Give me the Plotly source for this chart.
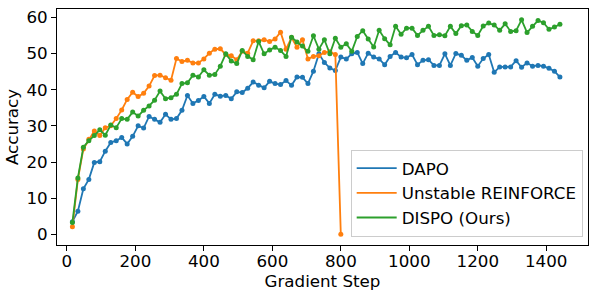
import plotly.graph_objects as go

steps = list(range(16, 1441, 16))

dapo = [3.5, 6.4, 12.6, 15.2, 19.9, 20.1, 23.0, 25.4, 25.9, 26.8, 25.0, 27.1, 30.0, 29.4, 32.6, 31.8, 31.0, 33.2, 31.8, 32.0, 34.3, 38.4, 36.2,
        37.0, 38.1, 36.2, 38.7, 38.2, 38.4, 37.5, 39.4, 39.2, 40.4, 42.1, 41.2, 40.5, 42.3, 41.7, 41.4, 42.5, 41.2, 43.5, 43.4, 41.7, 45.1, 49.9, 47.5,
        46.0, 45.3, 49.0, 48.5, 49.9, 50.3, 47.2, 50.1, 49.0, 48.5, 46.9, 49.2, 50.3, 49.0, 48.8, 49.7, 46.9, 48.1, 48.3, 46.7, 46.7, 49.9, 46.7, 50.0,
        49.5, 48.1, 48.9, 46.5, 48.6, 49.7, 44.8, 46.3, 46.3, 46.3, 48.0, 46.2, 47.4, 46.5, 46.7, 46.5, 45.9, 45.1, 43.5]

reinforce = [2.1, 15.2, 23.6, 26.3, 28.6, 27.3, 29.5, 30.0, 32.0, 34.4, 37.3, 39.3, 38.1, 39.0, 41.0, 43.9, 44.0, 43.3, 42.6, 48.6, 47.8, 48.1, 47.4,
             47.4, 48.5, 50.1, 51.2, 51.3, 49.7, 49.4, 48.3, 50.6, 50.1, 53.5, 53.5, 53.8, 53.3, 54.0, 55.9, 51.2, 54.4, 51.7, 53.8, 48.5, 49.2, 49.4, 50.3, 50.5, 49.7,
             0.0]

dispo = [3.3, 15.6, 24.1, 25.9, 27.3, 28.9, 27.4, 30.2, 29.5, 32.0, 31.8, 33.8, 32.7, 34.3, 35.5, 37.1, 39.6, 37.5, 37.8, 38.7, 41.7, 41.9, 44.0,
         43.5, 45.5, 44.0, 44.2, 46.5, 49.9, 47.9, 47.2, 50.8, 49.2, 48.3, 53.3, 49.9, 51.0, 51.7, 50.8, 49.2, 54.5, 53.2, 52.1, 50.6, 54.9, 51.2, 53.8,
         49.9, 54.2, 51.7, 52.7, 50.6, 54.7, 56.3, 54.0, 51.8, 56.4, 54.1, 52.4, 57.5, 55.3, 57.0, 57.0, 55.0, 56.4, 57.5, 55.0, 55.2, 54.9, 57.5, 55.5,
         57.7, 57.9, 56.1, 55.0, 57.6, 58.4, 57.9, 56.4, 58.2, 56.1, 56.3, 59.3, 55.8, 57.5, 59.1, 58.5, 56.7, 57.3, 58.1]

series = [
    ("DAPO", dapo, "#1f77b4"),
    ("Unstable REINFORCE", reinforce, "#ff7f0e"),
    ("DISPO (Ours)", dispo, "#2ca02c"),
]

fig = go.Figure()
for name, vals, color in series:
    xs = steps[:len(vals)]
    fig.add_trace(go.Scatter(x=xs, y=vals, mode="lines", name=name,
                             line=dict(color=color, width=1.8)))
    fig.add_trace(go.Scatter(x=xs, y=vals, mode="markers", showlegend=False,
                             marker=dict(color=color, size=5, line=dict(width=0)),
                             hoverinfo="skip"))

font = dict(family="DejaVu Sans", size=16.7, color="black")
axis_common = dict(showline=True, linecolor="black", linewidth=1, mirror=True,
                   ticks="outside", ticklen=5, tickwidth=1, tickcolor="black",
                   showgrid=False, zeroline=False, tickfont=font)

fig.update_layout(
    width=598, height=297,
    margin=dict(l=57, r=10, t=7, b=52),
    plot_bgcolor="white", paper_bgcolor="white",
    font=font,
    xaxis=dict(range=[-29, 1522], tickvals=[0, 200, 400, 600, 800, 1000, 1200, 1400],
               ticklabelstandoff=-4,
               title=dict(text="Gradient Step", font=font, standoff=2), **axis_common),
    yaxis=dict(range=[-2.94, 62.3], tickvals=[0, 10, 20, 30, 40, 50, 60],
               title=dict(text="Accuracy", font=font, standoff=3), **axis_common),
    legend=dict(x=0.99, y=0.035, xanchor="right", yanchor="bottom",
                bgcolor="rgba(255,255,255,0.8)", bordercolor="#cccccc", borderwidth=1,
                font=font, itemwidth=40, tracegroupgap=0),
    showlegend=True,
)

fig.write_html("out.html", config={"displayModeBar": False},
               post_script="document.body.style.margin='0';document.body.style.overflow='hidden';")
